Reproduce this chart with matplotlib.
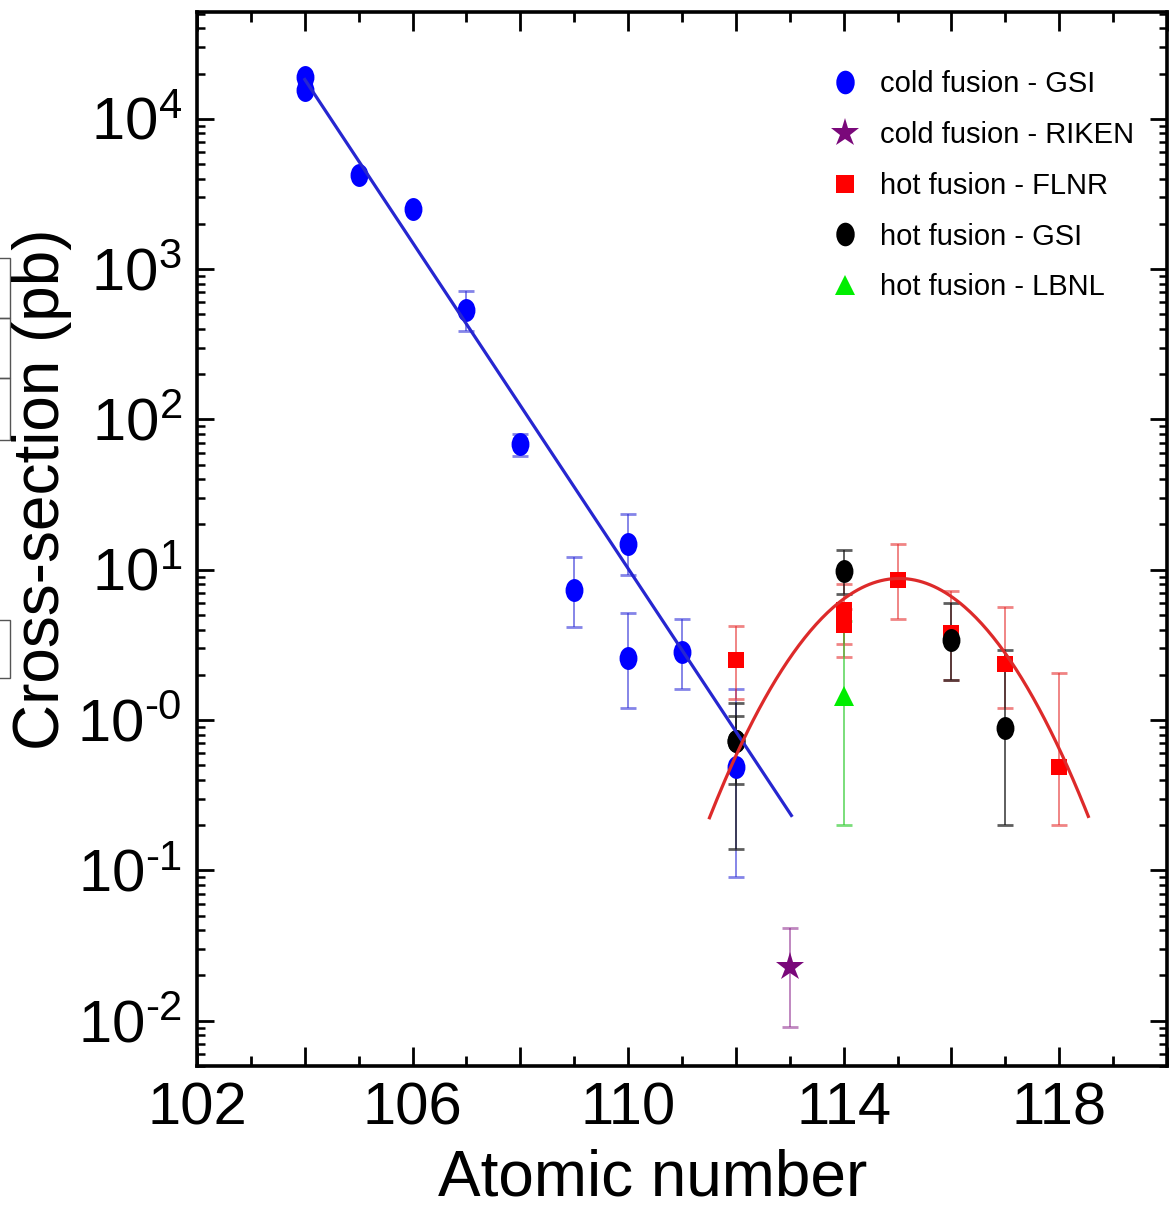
import numpy as np
import matplotlib
matplotlib.use('Agg')
import matplotlib.pyplot as plt
from matplotlib.path import Path
from matplotlib.lines import Line2D
from matplotlib.patches import Rectangle
from matplotlib.ticker import FixedLocator, FixedFormatter, LogLocator, NullFormatter, MultipleLocator
from matplotlib.font_manager import FontProperties

plt.rcParams['font.family'] = ['Liberation Sans', 'DejaVu Sans']
plt.rcParams['mathtext.fontset'] = 'custom'
plt.rcParams['mathtext.rm'] = 'Liberation Sans'

nan = np.nan

# cold fusion - GSI
cold_gsi_z = [104, 104, 105, 106, 107, 108, 109, 110, 110, 111, 112]
cold_gsi_sig = [18900, 15500, 4250, 2510, 534, 68.9, 7.3, 14.9, 2.6, 2.85, 0.49]
cold_gsi_lo = [nan, nan, nan, nan, 389, 56.8, 4.16, 9.2, 1.2, 1.61, 0.090]
cold_gsi_hi = [nan, nan, nan, nan, 718, 79.8, 12.1, 23.6, 5.13, 4.68, 1.61]

# cold fusion - RIKEN
cold_riken_z = [113]
cold_riken_sig = [0.0226]
cold_riken_lo = [0.00904]
cold_riken_hi = [0.0414]

# hot fusion - FLNR
hot_flnr_z = [112, 114, 114, 115, 116, 117, 118]
hot_flnr_sig = [2.5, 5.4, 4.3, 8.5, 3.81, 2.37, 0.49]
hot_flnr_lo = [1.38, 3.2, 2.63, 4.72, 1.84, 1.2, 0.20]
hot_flnr_hi = [4.23, 8.0, 5.5, 14.9, 7.21, 5.65, 2.07]

# hot fusion - GSI
hot_gsi_z = [112, 112, 114, 116, 117]
hot_gsi_sig = [0.73, 0.73, 9.8, 3.40, 0.89]
hot_gsi_lo = [0.376, 0.139, 6.86, 1.84, 0.20]
hot_gsi_hi = [1.07, 1.29, 13.5, 6.03, 2.91]

# hot fusion - LBNL
hot_lbnl_z = [114]
hot_lbnl_sig = [1.45]
hot_lbnl_lo = [0.20]
hot_lbnl_hi = [4.56]

# fits: straight line in log for cold fusion, parabola in log for hot fusion
cold_fit_z0, cold_fit_log0, cold_fit_slope = 104.0, 4.262, -0.5423
cold_fit_range = (104.0, 113.03)
hot_fit_zpk, hot_fit_logpk, hot_fit_curv = 115.03, 0.942, 0.1285
hot_fit_range = (111.51, 118.54)

HY = '\u2010'
ytick_vals = [1e-2, 1e-1, 1e0, 1e1, 1e2, 1e3, 1e4]
ytick_text = [r'$\mathregular{10^{%s2}}$' % HY, r'$\mathregular{10^{%s1}}$' % HY,
              r'$\mathregular{10^{%s0}}$' % HY,
              r'$\mathregular{10^{1}}$', r'$\mathregular{10^{2}}$', r'$\mathregular{10^{3}}$',
              r'$\mathregular{10^{4}}$']
xtick_vals = [102, 104, 106, 108, 110, 112, 114, 116, 118, 120]
xtick_text = ['102', '', '106', '', '110', '', '114', '', '118', '']

# slightly tall oval for the circles
ell = Path.unit_circle()
ell = Path(ell.vertices * np.array([0.78, 1.0]), ell.codes)

W, H = 1176, 1210
fig = plt.figure(figsize=(W / 100, H / 100), dpi=100)
ax = fig.add_axes([197 / W, 1 - 1066 / H, 970 / W, 1054 / H])


def errs(sig, lo, hi):
    sig = np.array(sig, float)
    return [sig - np.array(lo, float), np.array(hi, float) - sig]


def series(z, sig, lo, hi, color, marker, ms, ecolor):
    ax.errorbar(z, sig, yerr=errs(sig, lo, hi), fmt='none', ecolor=ecolor,
                elinewidth=1.4, capsize=5.5, capthick=2.0, zorder=2)
    ax.plot(z, sig, linestyle='none', marker=marker, ms=ms, color=color,
            markeredgewidth=0, zorder=3)


series(cold_gsi_z, cold_gsi_sig, cold_gsi_lo, cold_gsi_hi, '#0000ff', ell, 16.5, (0.2, 0.2, 0.85, 0.6))
series(cold_riken_z, cold_riken_sig, cold_riken_lo, cold_riken_hi, '#7a087a', '*', 21, (0.55, 0.15, 0.55, 0.55))
series(hot_flnr_z, hot_flnr_sig, hot_flnr_lo, hot_flnr_hi, '#ff0000', 's', 12, (0.9, 0.2, 0.2, 0.6))
series(hot_lbnl_z, hot_lbnl_sig, hot_lbnl_lo, hot_lbnl_hi, '#00ee00', '^', 15, (0.2, 0.8, 0.2, 0.65))
series(hot_gsi_z, hot_gsi_sig, hot_gsi_lo, hot_gsi_hi, '#000000', ell, 16.5, (0.1, 0.1, 0.1, 0.7))

zc = np.linspace(*cold_fit_range, 100)
ax.plot(zc, 10 ** (cold_fit_log0 + cold_fit_slope * (zc - cold_fit_z0)),
        color='#2626d0', lw=2.3, zorder=4)
zh = np.linspace(*hot_fit_range, 200)
ax.plot(zh, 10 ** (hot_fit_logpk - hot_fit_curv * (zh - hot_fit_zpk) ** 2),
        color='#dd2a2a', lw=2.3, zorder=4)

ax.set_yscale('log')
ax.set_xlim(102, 120)
ax.set_ylim(4.99e-3, 5.14e4)

ax.xaxis.set_major_locator(FixedLocator(xtick_vals))
ax.xaxis.set_major_formatter(FixedFormatter(xtick_text))
ax.xaxis.set_minor_locator(MultipleLocator(1))
ax.yaxis.set_major_locator(FixedLocator(ytick_vals))
ax.yaxis.set_major_formatter(FixedFormatter(ytick_text))
ax.yaxis.set_minor_locator(LogLocator(base=10, subs=np.arange(2, 10), numticks=20))
ax.yaxis.set_minor_formatter(NullFormatter())

for s in ax.spines.values():
    s.set_linewidth(2.6)
ax.tick_params(which='both', direction='in', top=True, right=True, colors='black')
ax.tick_params(axis='x', which='major', length=14, width=2.0, labelsize=43, pad=11)
ax.tick_params(axis='x', which='minor', length=7, width=2.0)
ax.tick_params(axis='y', which='major', length=12, width=2.0, labelsize=43, pad=11)
ax.tick_params(axis='y', which='minor', length=6, width=1.8)

fig.text(653 / W, 1 - 1196 / H, 'Atomic number', fontsize=46, ha='center', va='baseline')
fig.text(42 / W, 1 - 489 / H, 'Cross-section (pb)', fontsize=46, rotation=90,
         ha='center', va='center')

handles = [
    Line2D([], [], linestyle='none', marker=ell, ms=17, color='#0000ff', markeredgewidth=0),
    Line2D([], [], linestyle='none', marker='*', ms=21, color='#7a087a', markeredgewidth=0),
    Line2D([], [], linestyle='none', marker='s', ms=12.5, color='#ff0000', markeredgewidth=0),
    Line2D([], [], linestyle='none', marker=ell, ms=17, color='#000000', markeredgewidth=0),
    Line2D([], [], linestyle='none', marker='^', ms=15, color='#00ee00', markeredgewidth=0),
]
labels = ['cold fusion - GSI', 'cold fusion - RIKEN', 'hot fusion - FLNR',
          'hot fusion - GSI', 'hot fusion - LBNL']
lp = FontProperties(family=['Liberation Sans'], size=21)
ax.legend(handles, labels, loc='upper left', bbox_to_anchor=(0.6530, 0.9446),
          frameon=False, prop=lp, borderpad=0, borderaxespad=0, handlelength=1.0,
          handletextpad=0.70, labelspacing=0.78)

# thin boxes cut off at the left edge
for y0, y1 in [(258, 318), (318, 378), (378, 440), (620, 678)]:
    fig.add_artist(Rectangle((-10 / W, 1 - y1 / H), 20 / W, (y1 - y0) / H,
                             transform=fig.transFigure, fill=False,
                             edgecolor='#555555', lw=1.0))

fig.savefig('out.png', dpi=100)
